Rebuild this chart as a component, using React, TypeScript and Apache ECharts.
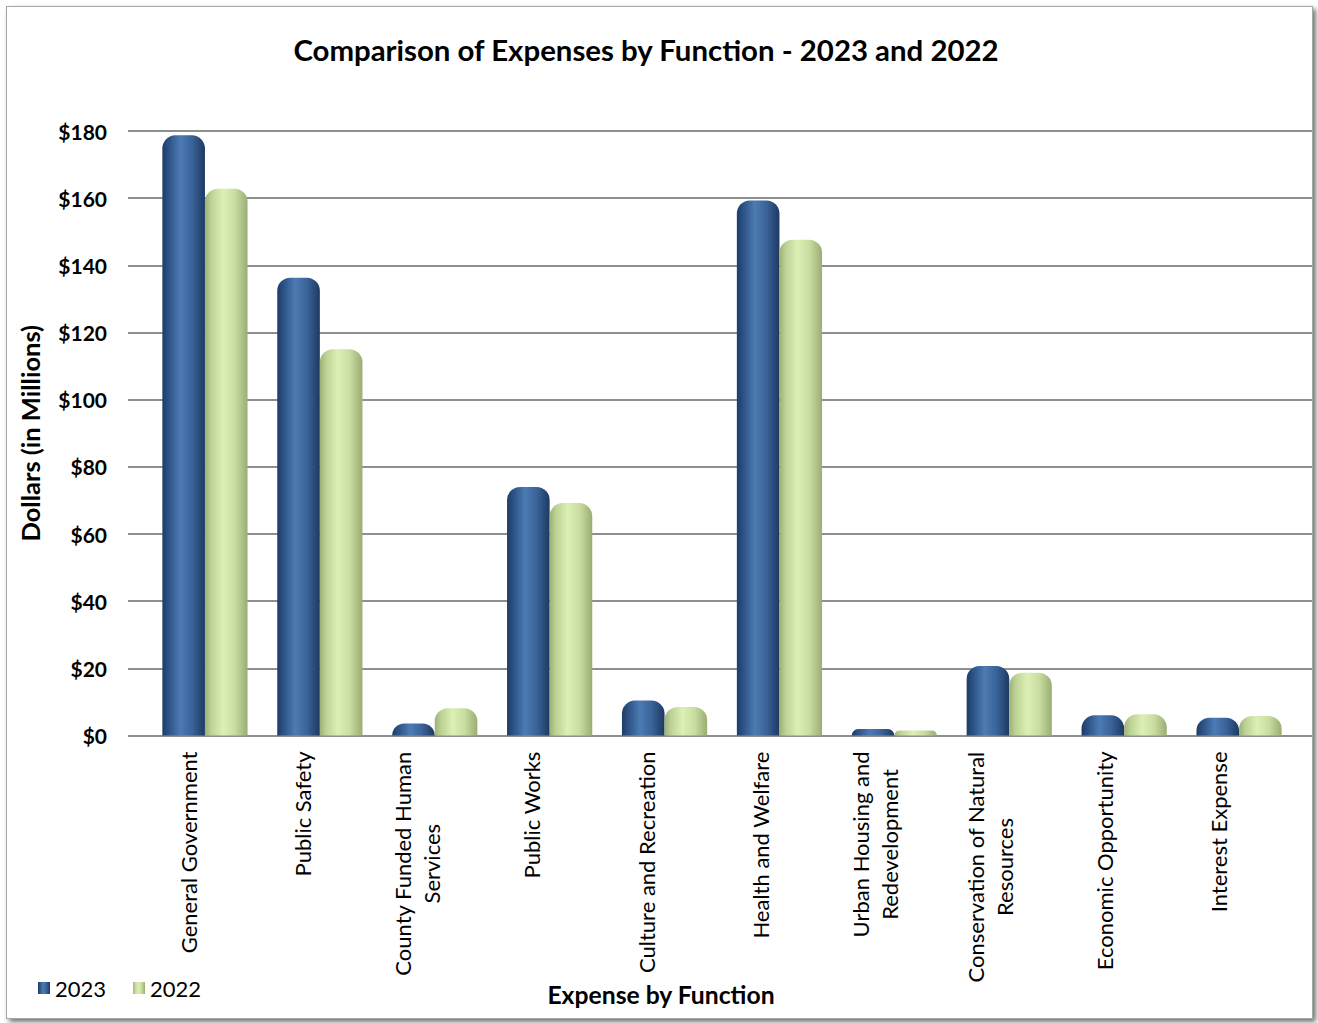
import React, { useEffect, useRef } from "react";
import * as echarts from "echarts";

const categories = [
  "General Government",
  "Public Safety",
  "County Funded Human\nServices",
  "Public Works",
  "Culture and Recreation",
  "Health and Welfare",
  "Urban Housing and\nRedevelopment",
  "Conservation of Natural\nResources",
  "Economic Opportunity",
  "Interest Expense",
];
const values2023 = [178.7, 136.3, 3.6, 74.0, 10.4, 159.3, 1.9, 20.7, 6.0, 5.3];
const values2022 = [162.8, 115.0, 8.1, 69.2, 8.5, 147.6, 1.5, 18.7, 6.3, 5.8];
const yTicks = [0, 20, 40, 60, 80, 100, 120, 140, 160, 180];
const seriesNames = ["2023", "2022"];

const FONT = "Lato, 'Open Sans', sans-serif";

export default function App() {
  const ref = useRef<HTMLDivElement>(null);
  useEffect(() => {
    if (!ref.current) return;
    const chart = echarts.init(ref.current, null, { renderer: "svg" });
    const blue = new echarts.graphic.LinearGradient(0, 0, 1, 0, [
      { offset: 0, color: "#1e3c66" },
      { offset: 0.15, color: "#2c5286" },
      { offset: 0.42, color: "#4c7bb3" },
      { offset: 0.7, color: "#3a6399" },
      { offset: 1, color: "#1d3961" },
    ]);
    const green = new echarts.graphic.LinearGradient(0, 0, 1, 0, [
      { offset: 0, color: "#9db177" },
      { offset: 0.15, color: "#bdd295" },
      { offset: 0.42, color: "#dcefb5" },
      { offset: 0.7, color: "#c9dda2" },
      { offset: 1, color: "#9aae74" },
    ]);
    const top = 131;
    const bottom = 1023 - 735.5;
    const option = {
      animation: false,
      textStyle: { fontFamily: FONT },
      graphic: [
        {
          type: "text",
          x: 646,
          y: 49,
          style: {
            text: "Comparison of Expenses by Function - 2023 and 2022",
            font: `bold 29.4px ${FONT}`,
            fill: "#000",
            textAlign: "center",
            textVerticalAlign: "middle",
          },
        },
        {
          type: "text",
          x: 661,
          y: 994,
          style: {
            text: "Expense by Function",
            font: `bold 24.7px ${FONT}`,
            fill: "#000",
            textAlign: "center",
            textVerticalAlign: "middle",
          },
        },
      ],
      legend: {
        left: 33,
        top: 972,
        itemWidth: 12,
        itemHeight: 12,
        itemGap: 27,
        icon: "rect",
        data: seriesNames,
        textStyle: { fontSize: 22, color: "#000", fontFamily: FONT },
      },
      grid: [
        { left: 128, right: 6, top, bottom },
        { left: 147.5, width: 1149, top, bottom },
        { left: 130.75, width: 1145, top, bottom },
      ],
      xAxis: [
        { type: "category", gridIndex: 0, data: categories, show: false },
        { type: "category", gridIndex: 1, data: categories, show: false },
        {
          type: "category",
          gridIndex: 2,
          data: categories,
          axisLine: { show: false },
          axisTick: { show: false },
          axisLabel: {
            rotate: 90,
            margin: 16,
            interval: 0,
            fontSize: 22,
            color: "#000",
            fontFamily: FONT,
            formatter: (v: string) =>
              v
                .split("\n")
                .map((s) => `{c|${s}}`)
                .join("\n"),
            rich: { c: { align: "center", fontSize: 22, fontFamily: FONT, color: "#000", lineHeight: 29 } },
          },
        },
      ],
      yAxis: [
        {
          type: "value",
          gridIndex: 0,
          min: 0,
          max: 180,
          interval: 20,
          name: "Dollars (in Millions)",
          nameLocation: "middle",
          nameRotate: 90,
          nameGap: 85,
          nameTextStyle: { fontSize: 25.5, fontWeight: "bold", color: "#000", fontFamily: FONT },
          axisLine: { show: false },
          axisTick: { show: false },
          axisLabel: {
            margin: 21,
            fontSize: 21,
            fontWeight: "bold",
            color: "#000",
            fontFamily: FONT,
            formatter: (v: number) => (yTicks.includes(v) ? `$${v}` : ""),
          },
          splitLine: { lineStyle: { color: "#8f8f8f", width: 2 } },
        },
        { type: "value", gridIndex: 1, min: 0, max: 180, interval: 20, show: false, splitLine: { show: false } },
        { type: "value", gridIndex: 2, min: 0, max: 180, interval: 20, show: false, splitLine: { show: false } },
      ],
      series: [
        {
          name: seriesNames[0],
          type: "bar",
          xAxisIndex: 1,
          yAxisIndex: 1,
          data: values2023,
          barWidth: 42.6,
          barGap: "0%",
          itemStyle: { color: blue, borderRadius: [13, 13, 0, 0] },
        },
        {
          name: seriesNames[1],
          type: "bar",
          xAxisIndex: 1,
          yAxisIndex: 1,
          data: values2022,
          barWidth: 42.6,
          barGap: "0%",
          itemStyle: { color: green, borderRadius: [13, 13, 0, 0] },
        },
      ],
    };
    chart.setOption(option as any);
    return () => chart.dispose();
  }, []);
  return (
    <div style={{ position: "absolute", left: 0, top: 0, width: 1318, height: 1023, background: "#fff", overflow: "hidden" }}>
      <div
        style={{
          position: "absolute",
          left: 6,
          top: 6,
          width: 1305,
          height: 1011,
          border: "1px solid #a6a6a6",
          boxShadow: "3px 3px 5px rgba(0,0,0,0.55)",
          background: "#fff",
        }}
      />
      <div ref={ref} style={{ position: "absolute", left: 0, top: 0, width: 1318, height: 1023 }} />
    </div>
  );
}
